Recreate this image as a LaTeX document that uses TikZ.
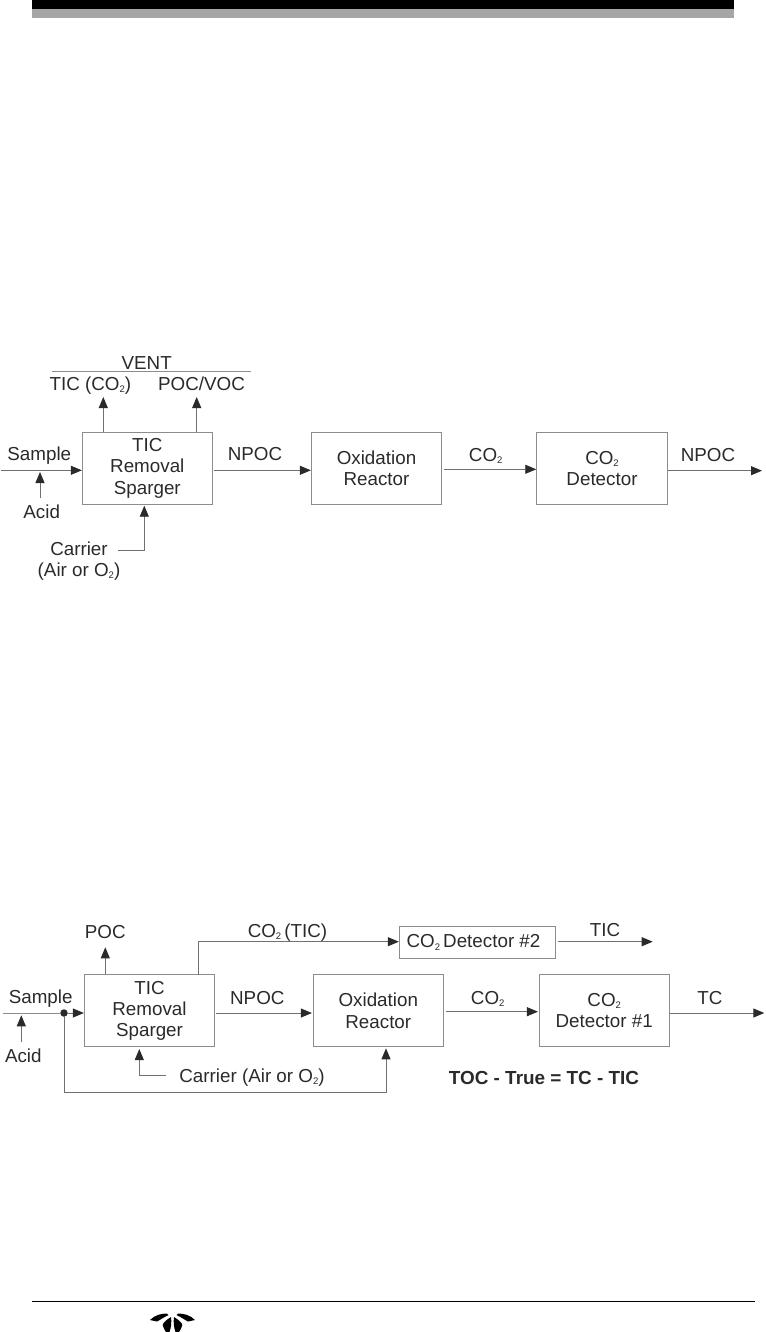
\documentclass[tikz,border=0pt]{standalone}
\usepackage{fontspec}
\setmainfont{Liberation Sans}
\usetikzlibrary{arrows.meta}
\definecolor{ink}{HTML}{2A2A2A}
\definecolor{rule}{HTML}{8C8C8C}
\newcommand{\cotwo}{CO\raisebox{-2.2pt}{\fontsize{9.5}{9.5}\selectfont 2}}
\newcommand{\otwo}{O\raisebox{-2.2pt}{\fontsize{9.5}{9.5}\selectfont 2}}
\tikzset{
  boxnode/.style={draw=rule,line width=0.9pt,inner sep=0pt,minimum height=72pt,align=center,text=ink,
    font=\fontsize{18.8}{21.3}\selectfont},
  lbl/.style={anchor=base,inner sep=0pt,text=ink,font=\fontsize{18.8}{21.3}\selectfont},
  conn/.style={draw=rule!80!black,line width=0.9pt,-{Triangle[length=11pt,width=9pt,color=ink]}},
  plainline/.style={draw=rule,line width=0.9pt}
}
\begin{document}
\begin{tikzpicture}[x=1pt,y=-1pt]
\useasboundingbox (0,0) rectangle (765,1332);
% page furniture
\fill[black] (32,0) rectangle (734,9);
\fill[black!35] (32,9) rectangle (734,17.7);
\draw[black,line width=1.2pt] (32,1301.3) -- (755,1301.3);
\begin{scope}
\clip (140,1310) rectangle (205,1332);
\foreach \s/\o in {1/0,-1/345}{
  \begin{scope}[shift={(\o,0)},xscale=\s]
  \fill[black] (150,1320) .. controls (155,1315) and (161,1313.5) .. (167,1313.5) -- (168.5,1315) .. controls (164,1317) and (160,1320) .. (157,1321.5) -- cycle;
  \fill[black] (171,1317) .. controls (166,1320) and (163,1323) .. (162.7,1325) .. controls (164,1329) and (165,1331) .. (166,1332) -- (169.5,1332) .. controls (171,1328) and (171.8,1322) .. (171,1317) -- cycle;
  \end{scope}
}
\end{scope}

% ---- upper diagram
\node[boxnode,minimum width=130pt] (a1) at (147.3,468.3) {TIC\\Removal\\Sparger};
\node[boxnode,minimum width=130.4pt] (a2) at (376.5,468.3) {Oxidation\\Reactor};
\node[boxnode,minimum width=130.6pt] (a3) at (602,468.3) {\cotwo\\Detector};

\node[lbl] (aVent) at (146.7,369) {VENT};
\node[lbl] (aTic) at (90.3,390) {TIC (\cotwo)};
\node[lbl] (aPoc) at (201.5,390) {POC/VOC};
\node[lbl] (aSample) at (39.3,460.7) {Sample};
\node[lbl] (aAcid) at (41.7,518.5) {Acid};
\node[lbl] (aNpoc) at (255,460.7) {NPOC};
\node[lbl] (aCo) at (485.7,461.3) {\cotwo};
\node[lbl] (aNpocB) at (708,461.3) {NPOC};
\node[lbl] (aCarrier) at (79,555.7) {Carrier};
\node[lbl] (aAir) at (79,576.7) {(Air or \otwo)};

\coordinate (aVentL) at (51.7,371.7);
\coordinate (aVentR) at (250.7,371.7);
\coordinate (aIn) at (1,470.3);
\coordinate (aAcidS) at (40,498);
\coordinate (aAcidE) at (40,472);
\coordinate (aTicE) at (103.3,397);
\coordinate (aPocE) at (196.7,397);
\coordinate (aCarS) at (118.3,550.3);
\coordinate (aCarT) at (144.3,505.7);
\coordinate (aOut) at (762,470.7);

\draw[plainline] (aVentL) -- (aVentR);
\draw[conn] (aIn) -- ([yshift=-2pt]a1.west);
\draw[conn] (aAcidS) -- (aAcidE);
\draw[conn] (aTicE |- a1.north) -- (aTicE);
\draw[conn] (aPocE |- a1.north) -- (aPocE);
\draw[conn] (aCarS) -| (aCarT);
\draw[conn] ([xshift=1.5pt,yshift=-2pt]a1.east) -- ([yshift=-2pt]a2.west);
\draw[conn] ([xshift=1.5pt,yshift=-1pt]a2.east) -- ([yshift=-1pt]a3.west);
\draw[conn] ([yshift=-2.4pt]a3.east) -- (aOut);

% ---- lower diagram
\node[boxnode,minimum width=130.4pt] (b1) at (149.5,1010.8) {TIC\\Removal\\Sparger};
\node[boxnode,minimum width=130pt] (b2) at (378.3,1010.8) {Oxidation\\Reactor};
\node[boxnode,minimum width=129.7pt] (b3) at (604.2,1010.8) {\cotwo\\Detector \#1};
\node[boxnode,minimum width=156.4pt,minimum height=31.6pt] (b4) at (477.5,942.5) {\cotwo\,Detector \#2\hspace{8pt}};

\node[lbl] (bPoc) at (105.3,938) {POC};
\node[lbl] (bCoTic) at (287.5,937) {\cotwo\,(TIC)};
\node[lbl] (bTic) at (605,936) {TIC};
\node[lbl] (bSample) at (40.7,1003.3) {Sample};
\node[lbl] (bAcid) at (23.3,1062.3) {Acid};
\node[lbl] (bNpoc) at (257.3,1004.7) {NPOC};
\node[lbl] (bCo) at (487.7,1004.7) {\cotwo};
\node[lbl] (bTc) at (710,1004.7) {TC};
\node[lbl] (bCarrier) at (252,1082.3) {Carrier (Air or \otwo)};
\node[lbl,font=\fontsize{18.9}{21.3}\selectfont\bfseries] (bToc) at (544,1084) {TOC - True = TC - TIC};

\coordinate (bIn) at (2.7,1013);
\node[circle,fill=ink,inner sep=0pt,minimum size=7.5pt] (bDot) at (64,1013) {};
\coordinate (bAcidS) at (21.3,1042.3);
\coordinate (bAcidE) at (21.3,1015.3);
\coordinate (bPocE) at (105.3,947.3);
\coordinate (bTicS) at (198.7,975);
\coordinate (bTicC) at (198.7,941.7);
\coordinate (bCarS) at (166,1075.3);
\coordinate (bCarC) at (139.3,1075.3);
\coordinate (bCarE) at (139.3,1049);
\coordinate (bByA) at (64,1092.3);
\coordinate (bByB) at (386,1092.3);
\coordinate (bByE) at (386,1048.3);
\coordinate (bTicOut) at (652.7,941.7);
\coordinate (bOut) at (764.3,1013);

\draw[plainline] (bIn) -- (bDot);
\draw[conn] (bDot) -- ([yshift=-2.2pt]b1.west);
\draw[conn] (bAcidS) -- (bAcidE);
\draw[conn] (bPocE |- b1.north) -- (bPocE);
\draw[conn] (bTicS) -- (bTicC) -- ([yshift=0.8pt]b4.west);
\draw[conn] (bCarS) -- (bCarC) -- (bCarE);
\draw[conn] (bDot) -- (bByA) -- (bByB) -- (bByE);
\draw[conn] ([xshift=1.3pt,yshift=-2.2pt]b1.east) -- ([xshift=-1pt,yshift=-2.2pt]b2.west);
\draw[conn] ([xshift=2.4pt,yshift=-0.9pt]b2.east) -- ([xshift=-1pt,yshift=-0.9pt]b3.west);
\draw[conn] ([yshift=-2.2pt]b3.east) -- (bOut);
\draw[conn] ([xshift=1.6pt,yshift=0.8pt]b4.east) -- (bTicOut);
\end{tikzpicture}
\end{document}
